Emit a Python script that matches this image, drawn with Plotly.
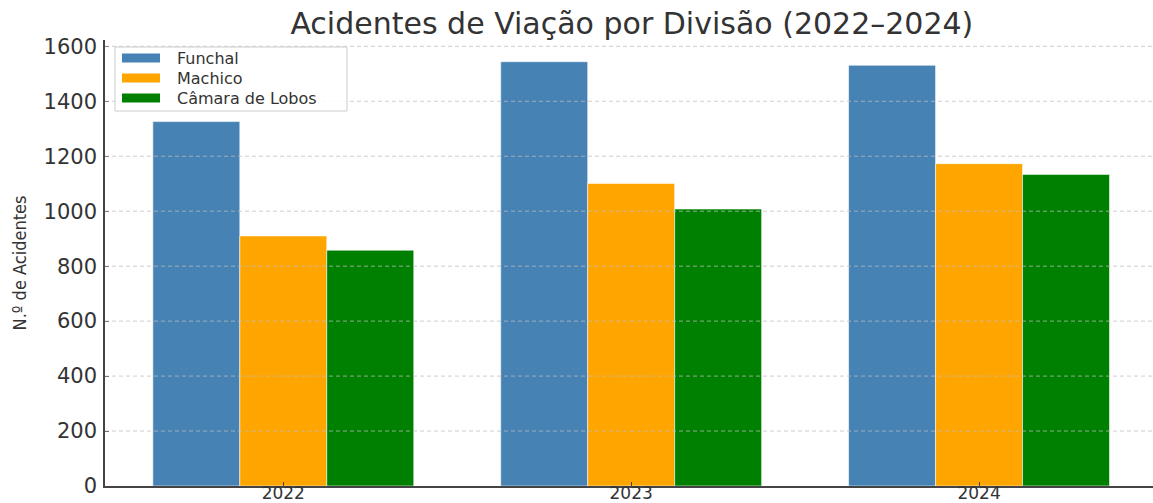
import plotly.graph_objects as go

years = ["2022", "2023", "2024"]
series_names = ["Funchal", "Machico", "Câmara de Lobos"]
funchal = [1326, 1544, 1531]
machico = [910, 1101, 1173]
camara_lobos = [858, 1008, 1134]
series_values = [funchal, machico, camara_lobos]
series_colors = ["#4682B4", "#FFA500", "#008000"]
y_ticks = [0, 200, 400, 600, 800, 1000, 1200, 1400, 1600]

FONT = "DejaVu Sans, Verdana, sans-serif"
TXT = "#333333"
W, H = 1153, 503
ML, MR, MT, MB = 105, 0, 40, 17
PW, PH = W - ML - MR, H - MT - MB


def px(xp):
    return (xp - ML) / PW


def py(yp):
    return (H - MB - yp) / PH


fig = go.Figure()
for name, vals, col in zip(series_names, series_values, series_colors):
    fig.add_trace(go.Bar(
        x=years, y=vals, name=name, showlegend=False,
        marker=dict(color=col, line=dict(color="rgba(255,255,255,0.55)", width=1)),
    ))

# grid lines drawn above bars (as in reference)
grid_color = "rgba(190,190,190,0.75)"
for t in y_ticks[1:]:
    fig.add_shape(type="line", xref="paper", yref="y", x0=0, x1=1, y0=t, y1=t,
                  line=dict(color=grid_color, width=1, dash="4px,3px"), layer="above")
for yr in years:
    fig.add_shape(type="line", xref="x", yref="paper", x0=yr, x1=yr, y0=0, y1=1,
                  line=dict(color=grid_color, width=1, dash="3px,2px"), layer="above")

# legend box (matplotlib-style, wide swatches)
fig.add_shape(type="rect", xref="paper", yref="paper",
              x0=px(115), x1=px(347), y0=py(111), y1=py(47),
              fillcolor="rgba(255,255,255,0.85)", line=dict(color="#cccccc", width=1),
              layer="above")
row_y = [58, 78, 98]
for name, col, ry in zip(series_names, series_colors, row_y):
    fig.add_shape(type="rect", xref="paper", yref="paper",
                  x0=px(122), x1=px(160), y0=py(ry + 4.5), y1=py(ry - 4.5),
                  fillcolor=col, line=dict(width=0), layer="above")
    fig.add_annotation(xref="paper", yref="paper", x=px(175), y=py(ry),
                       xanchor="left", yanchor="middle", showarrow=False, text=name,
                       font=dict(family=FONT, size=16, color=TXT))

fig.update_layout(
    width=W, height=H,
    margin=dict(l=ML, r=MR, t=MT, b=MB, autoexpand=False),
    paper_bgcolor="white", plot_bgcolor="white",
    barmode="group", bargap=0.25, bargroupgap=0,
    font=dict(family=FONT, color=TXT),
    title=dict(text="Acidentes de Viação por Divisão (2022–2024)",
               font=dict(family=FONT, size=30, color=TXT),
               x=0.548, xanchor="center", xref="container",
               y=1 - 23 / 503, yanchor="middle", yref="container"),
    showlegend=False,
)
fig.update_xaxes(
    type="category", range=[-0.5125, 2.5], automargin=False,
    showgrid=False, showline=True, linecolor="#444444", linewidth=1.5,
    ticks="inside", ticklen=4, tickcolor="#444444",
    tickfont=dict(family=FONT, size=17, color=TXT),
    ticklabelstandoff=-9,
)
fig.update_yaxes(
    range=[0, 1623], tickvals=y_ticks, automargin=False,
    showgrid=False, zeroline=False, showline=True, linecolor="#444444", linewidth=1.5,
    ticks="inside", ticklen=4, tickcolor="#444444",
    tickfont=dict(family=FONT, size=21, color=TXT),
    ticklabelstandoff=2,
    title=dict(text="N.º de Acidentes", standoff=12,
               font=dict(family="DejaVu Sans Condensed, DejaVu Sans, sans-serif", size=18, color=TXT)),
)

fig.write_html("out.html", config={"displayModeBar": False},
               post_script="document.body.style.margin='0';document.body.style.overflow='hidden';")
